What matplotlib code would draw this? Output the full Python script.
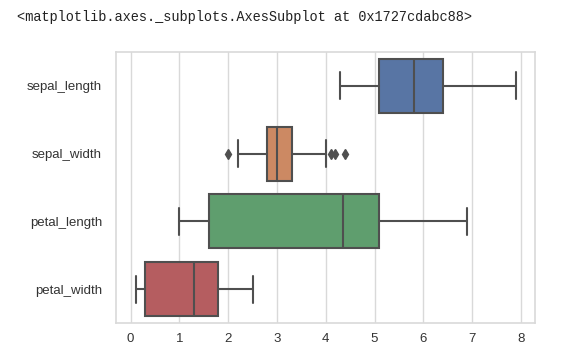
import matplotlib.pyplot as plt
import seaborn as sns

# iris summary values
features = ["sepal_length", "sepal_width", "petal_length", "petal_width"]
whisker_lo = [4.3, 2.2, 1.0, 0.1]
q1 = [5.1, 2.8, 1.6, 0.3]
median = [5.8, 3.0, 4.35, 1.3]
q3 = [6.4, 3.3, 5.1, 1.8]
whisker_hi = [7.9, 4.0, 6.9, 2.5]
outliers = [[], [2.0, 4.1, 4.2, 4.4], [], []]
box_colors = ["#5875a4", "#cc8963", "#5f9e6e", "#b55d60"]

sns.set_theme(style="whitegrid")
plt.rcParams["font.family"] = ["Liberation Sans", "DejaVu Sans"]

fig = plt.figure(figsize=(5.7, 3.62), dpi=100)
ax = fig.add_axes([0.2035, 0.1077, 0.7351, 0.7487])

stats = []
for i, name in enumerate(features):
    stats.append({
        "label": name, "whislo": whisker_lo[i], "q1": q1[i], "med": median[i],
        "q3": q3[i], "whishi": whisker_hi[i], "fliers": outliers[i],
    })

line_gray = "#4f4f4f"
res = ax.bxp(stats, positions=range(len(features)), vert=False, widths=0.8,
             patch_artist=True, showfliers=True,
             boxprops=dict(edgecolor=line_gray, linewidth=1.5),
             medianprops=dict(color=line_gray, linewidth=1.5),
             whiskerprops=dict(color=line_gray, linewidth=1.5),
             capprops=dict(color=line_gray, linewidth=1.5),
             flierprops=dict(marker="d", markersize=5, markerfacecolor=line_gray,
                             markeredgecolor=line_gray, linestyle="none"))
for patch, c in zip(res["boxes"], box_colors):
    patch.set_facecolor(c)

ax.set_xlim(-0.3, 8.29)
ax.set_ylim(3.5, -0.5)
ax.set_xticks(range(9))
ax.set_yticks(range(len(features)))
ax.set_yticklabels(features)
ax.yaxis.grid(False)
ax.xaxis.grid(True, color="#d9d9d9", linewidth=1)
ax.tick_params(labelsize=9.5, colors="#333333", length=0)
ax.tick_params(axis="y", pad=10)
ax.tick_params(axis="x", pad=7)
for s in ax.spines.values():
    s.set_color("#d9d9d9")
    s.set_linewidth(1.2)

fig.text(0.03, 0.952, "<matplotlib.axes._subplots.AxesSubplot at 0x1727cdabc88>",
         family="Liberation Mono", fontsize=9.85, color="#222222", va="center")

fig.savefig("out.png", dpi=100)
